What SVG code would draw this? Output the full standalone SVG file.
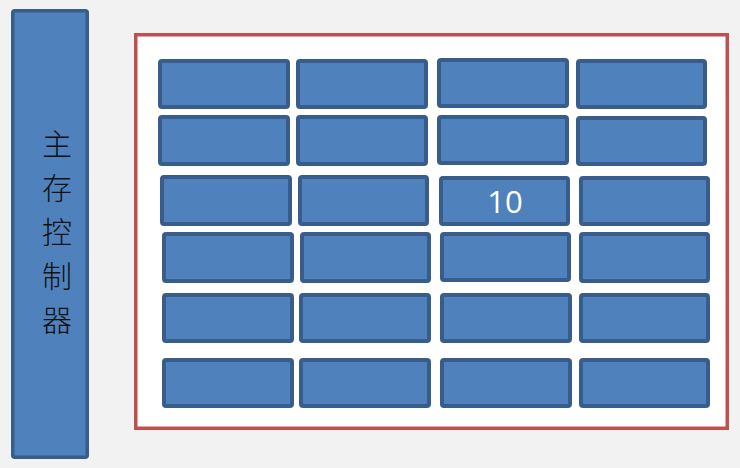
<svg xmlns="http://www.w3.org/2000/svg" width="740" height="468" viewBox="0 0 740 468">
<style>
.cell{fill:#4f81bd;stroke:#385d8a;stroke-width:4}
.ctrl{fill:#4f81bd;stroke:#385d8a;stroke-width:3.5}
.frame{fill:#ffffff;stroke:#c0504d;stroke-width:3.5}
.cjk{font-family:"Noto Sans CJK SC","Noto Sans",sans-serif;font-size:30px;font-weight:300;fill:#111111;text-anchor:middle}
.num{font-family:"Open Sans","Liberation Sans",sans-serif;font-size:31px;fill:#ffffff;text-anchor:middle}
</style>
<rect x="0" y="0" width="740" height="468" fill="#f2f2f2"/>
<g id="controller">
<rect class="ctrl" x="12.75" y="10.75" width="74.5" height="446.5" rx="2"/>
<text class="cjk" x="57" y="155">主</text>
<text class="cjk" x="57" y="199">存</text>
<text class="cjk" x="57" y="243">控</text>
<text class="cjk" x="57" y="287">制</text>
<text class="cjk" x="57" y="331">器</text>
</g>
<g id="memory">
<rect class="frame" x="135.75" y="34.75" width="591.5" height="393.5"/>
</g>
<g id="connectors"></g>
<g id="r1c1"><rect class="cell" x="160" y="61" width="128" height="46" rx="2"/></g>
<g id="r1c2"><rect class="cell" x="298" y="61" width="128" height="46" rx="2"/></g>
<g id="r1c3"><rect class="cell" x="439" y="60" width="128" height="46" rx="2"/></g>
<g id="r1c4"><rect class="cell" x="578" y="61" width="127" height="46" rx="2"/></g>
<g id="r2c1"><rect class="cell" x="160" y="117" width="128" height="47" rx="2"/></g>
<g id="r2c2"><rect class="cell" x="298" y="117" width="128" height="47" rx="2"/></g>
<g id="r2c3"><rect class="cell" x="439" y="117" width="128" height="46" rx="2"/></g>
<g id="r2c4"><rect class="cell" x="578" y="118" width="127" height="46" rx="2"/></g>
<g id="r3c1"><rect class="cell" x="162" y="177" width="128" height="47" rx="2"/></g>
<g id="r3c2"><rect class="cell" x="300" y="177" width="127" height="47" rx="2"/></g>
<g id="r3c3"><rect class="cell" x="441" y="178" width="127" height="46" rx="2"/>
<text class="num" x="505" y="213">10</text></g>
<g id="r3c4"><rect class="cell" x="581" y="178" width="127" height="46" rx="2"/></g>
<g id="r4c1"><rect class="cell" x="164" y="234" width="128" height="47" rx="2"/></g>
<g id="r4c2"><rect class="cell" x="302" y="234" width="127" height="47" rx="2"/></g>
<g id="r4c3"><rect class="cell" x="442" y="234" width="127" height="46" rx="2"/></g>
<g id="r4c4"><rect class="cell" x="581" y="234" width="127" height="47" rx="2"/></g>
<g id="r5c1"><rect class="cell" x="164" y="295" width="128" height="46" rx="2"/></g>
<g id="r5c2"><rect class="cell" x="301" y="295" width="128" height="46" rx="2"/></g>
<g id="r5c3"><rect class="cell" x="442" y="295" width="128" height="46" rx="2"/></g>
<g id="r5c4"><rect class="cell" x="581" y="295" width="127" height="46" rx="2"/></g>
<g id="r6c1"><rect class="cell" x="164" y="360" width="128" height="46" rx="2"/></g>
<g id="r6c2"><rect class="cell" x="301" y="360" width="128" height="46" rx="2"/></g>
<g id="r6c3"><rect class="cell" x="442" y="360" width="128" height="46" rx="2"/></g>
<g id="r6c4"><rect class="cell" x="581" y="360" width="127" height="46" rx="2"/></g>
</svg>
